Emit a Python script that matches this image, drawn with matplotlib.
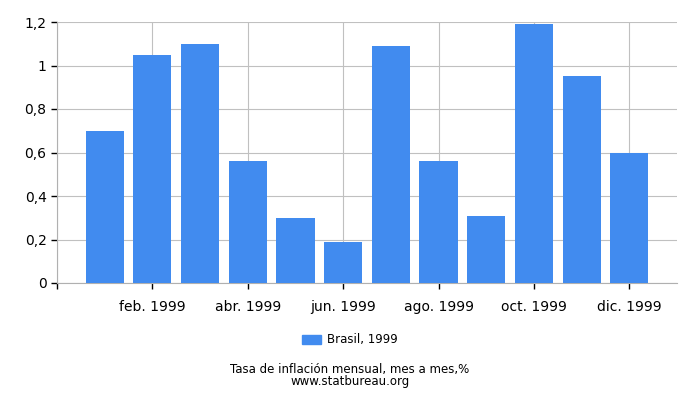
import matplotlib
matplotlib.use("Agg")
import matplotlib.pyplot as plt
from matplotlib.patches import Patch

months = ["ene. 1999", "feb. 1999", "mar. 1999", "abr. 1999", "may. 1999", "jun. 1999",
          "jul. 1999", "ago. 1999", "sep. 1999", "oct. 1999", "nov. 1999", "dic. 1999"]
values = [0.70, 1.05, 1.10, 0.56, 0.30, 0.19, 1.09, 0.56, 0.31, 1.19, 0.95, 0.60]
y_ticks = [0, 0.2, 0.4, 0.6, 0.8, 1.0, 1.2]
y_labels = ["0", "0,2", "0,4", "0,6", "0,8", "1", "1,2"]
series_name = "Brasil, 1999"
bar_color = "#418bef"

fig = plt.figure(figsize=(7, 4), dpi=100)
ax = fig.add_axes([57 / 700, 1 - 283 / 400, 620 / 700, 261 / 400])

x = list(range(len(values)))
ax.bar(x, values, width=0.8, color=bar_color, zorder=3)

ax.set_xlim(-1, 12)
ax.set_ylim(0, 1.2)
ax.set_yticks(y_ticks)
ax.set_yticklabels(y_labels, fontsize=10)

# ticks every two months, plus one unlabeled at the left edge
tick_pos = [-1] + x[1::2]
ax.set_xticks(tick_pos)
ax.set_xticklabels([""] + months[1::2], fontsize=10)

ax.grid(True, color="#c0c0c0", linewidth=0.8, zorder=0)
for side in ["top", "right"]:
    ax.spines[side].set_visible(False)
for side in ["left", "bottom"]:
    ax.spines[side].set_color("#b0b0b0")
ax.tick_params(axis="both", colors="black", length=4, width=1)
ax.tick_params(axis="x", pad=8)

fig.legend(handles=[Patch(color=bar_color, label=series_name)], loc="center",
           bbox_to_anchor=(0.5, 1 - 340 / 400), frameon=False, fontsize=8.5,
           handlelength=1.6, handleheight=0.7, handletextpad=0.5)

fig.text(0.5, 1 - 370 / 400, "Tasa de inflación mensual, mes a mes,%", ha="center",
         va="center", fontsize=8.5)
fig.text(0.5, 1 - 382 / 400, "www.statbureau.org", ha="center", va="center", fontsize=8.5)

fig.savefig("out.png", dpi=100)
